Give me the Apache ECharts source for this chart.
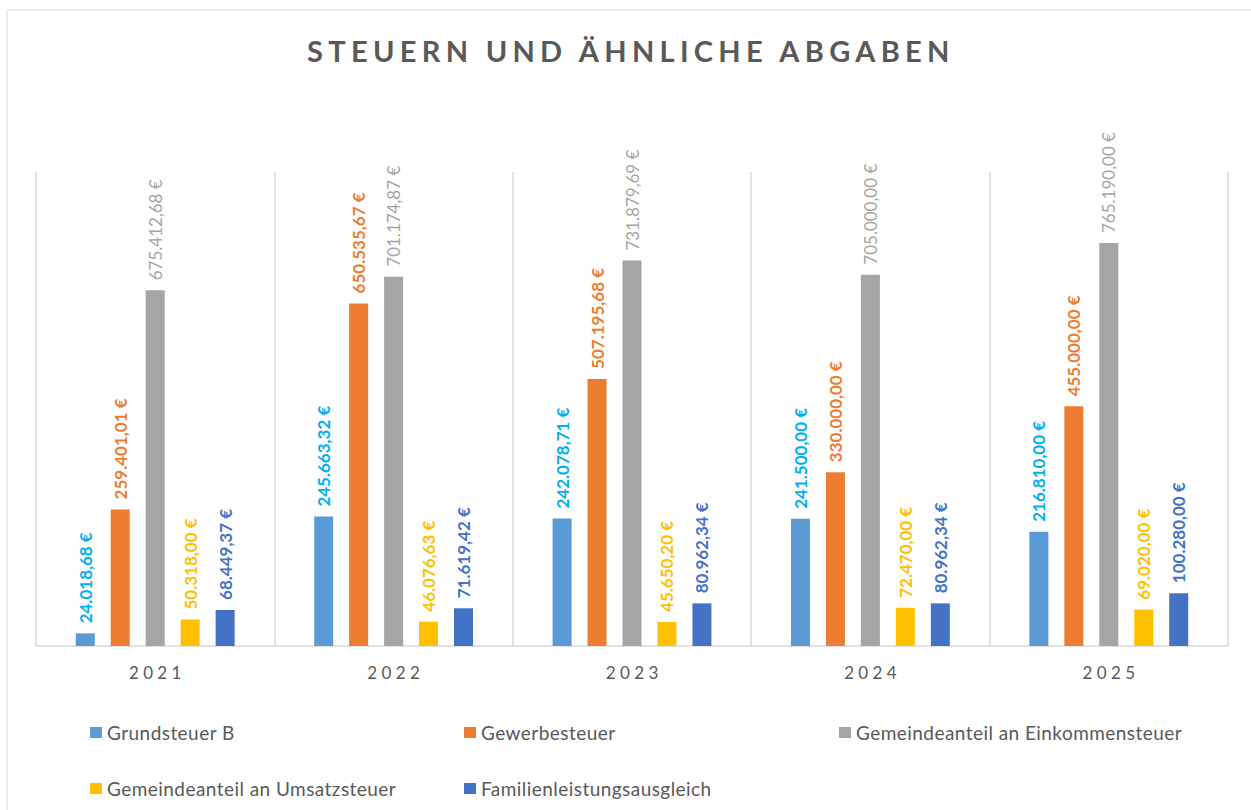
<!DOCTYPE html>
<html>
<head>
<meta charset="utf-8">
<script src="https://cdn.jsdelivr.net/npm/echarts@6/dist/echarts.min.js"></script>
<style>html,body{margin:0;padding:0;background:#fff;}#c{width:1251px;height:810px;}</style>
</head>
<body>
<div id="c"></div>
<script>
const titleText = 'STEUERN UND ÄHNLICHE ABGABEN';
const years = ['2021', '2022', '2023', '2024', '2025'];
const seriesNames = ['Grundsteuer B', 'Gewerbesteuer', 'Gemeindeanteil an Einkommensteuer', 'Gemeindeanteil an Umsatzsteuer', 'Familienleistungsausgleich'];
const grundsteuerB = [24018.68, 245663.32, 242078.71, 241500.00, 216810.00];
const gewerbesteuer = [259401.01, 650535.67, 507195.68, 330000.00, 455000.00];
const einkommensteuer = [675412.68, 701174.87, 731879.69, 705000.00, 765190.00];
const umsatzsteuer = [50318.00, 46076.63, 45650.20, 72470.00, 69020.00];
const familienleistung = [68449.37, 71619.42, 80962.34, 80962.34, 100280.00];

const values = [grundsteuerB, gewerbesteuer, einkommensteuer, umsatzsteuer, familienleistung];
const barColors = ['#5B9BD5', '#ED7D31', '#A5A5A5', '#FFC000', '#4472C4'];
const labelColors = ['#00B0F0', '#ED7D31', '#A5A5A5', '#FFC000', '#4472C4'];
const labelWeights = ['bold', 'bold', 'normal', 'bold', 'bold'];

function de(v) {
  const parts = v.toFixed(2).split('.');
  return parts[0].replace(/\B(?=(\d{3})+(?!\d))/g, '.') + ',' + parts[1] + ' €';
}

const FONT = 'Lato, "Open Sans", sans-serif';
const chart = echarts.init(document.getElementById('c'), null, {renderer: 'svg'});

const legendPos = [
  {left: 90, top: 723},
  {left: 464, top: 723},
  {left: 839, top: 723},
  {left: 90, top: 779},
  {left: 464, top: 779}
];

chart.setOption({
  animation: false,
  textStyle: {fontFamily: FONT},
  title: {
    text: titleText,
    left: 307,
    top: 36,
    padding: 0,
    textStyle: {fontFamily: FONT, fontSize: 29, fontWeight: 'bold', color: '#595959'}
  },
  graphic: [{
    type: 'rect', silent: true,
    shape: {x: 7, y: 10, width: 1300, height: 900},
    style: {fill: 'none', stroke: '#D9D9D9', lineWidth: 1}
  }],
  legend: seriesNames.map((n, i) => ({
    data: [n],
    left: legendPos[i].left,
    top: legendPos[i].top,
    padding: 0,
    itemWidth: 12, itemHeight: 11, itemGap: 5,
    icon: 'rect',
    textStyle: {fontFamily: FONT, fontSize: 19, color: '#595959'}
  })),
  grid: {left: 36, right: 23, top: 172, bottom: 164, containLabel: false},
  xAxis: {
    type: 'category',
    data: years,
    axisTick: {show: false},
    axisLine: {lineStyle: {color: '#D9D9D9', width: 1.5}},
    splitLine: {show: true, showMinLine: true, showMaxLine: true, lineStyle: {color: '#D9D9D9', width: 1.5}},
    axisLabel: {
      margin: 18, fontSize: 17, color: '#595959', fontFamily: FONT,
      formatter: v => v.split('').join(' ')
    }
  },
  yAxis: {type: 'value', min: 0, max: 900000, show: false},
  series: seriesNames.map((n, i) => ({
    name: n,
    type: 'bar',
    data: values[i],
    barWidth: 19,
    barGap: '84%',
    itemStyle: {color: barColors[i]},
    label: {
      show: true,
      position: 'top',
      rotate: 90,
      align: 'left',
      verticalAlign: 'middle',
      distance: 10,
      fontFamily: FONT,
      fontSize: 17,
      fontWeight: labelWeights[i],
      color: labelColors[i],
      formatter: p => de(p.value)
    }
  }))
});

// the reference title and legend are tracked out: apply letter spacing to the SVG text nodes
function trackText() {
  document.querySelectorAll('#c svg text').forEach(t => {
    const s = t.textContent;
    if (s === titleText) t.setAttribute('letter-spacing', '5.3px');
    else if (seriesNames.indexOf(s) >= 0) t.setAttribute('letter-spacing', '0.45px');
  });
}
try { chart.getZr().refreshImmediately(); } catch (e) {}
trackText();
chart.on('finished', trackText);
chart.on('rendered', trackText);
setTimeout(trackText, 0);
</script>
</body>
</html>
